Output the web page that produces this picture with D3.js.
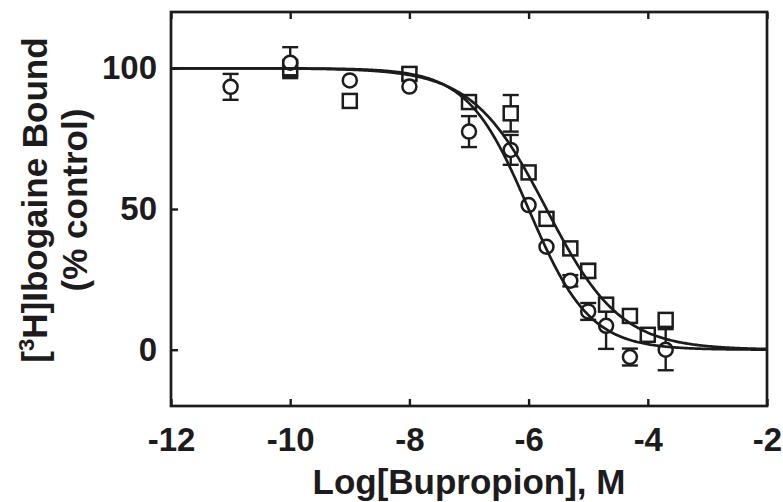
<!DOCTYPE html>
<html><head><meta charset="utf-8">
<script src="https://cdn.jsdelivr.net/npm/d3@7"></script>
<style>body{margin:0;background:#fff}</style>
</head><body><svg id="c" width="783" height="502"></svg>
<script>
// Data
const circleX   = [-11, -10, -9, -8, -7, -6.3, -6, -5.7, -5.3, -5, -4.7, -4.3, -3.7];
const circleY   = [93.4, 102, 95.7, 93.5, 77.5, 71, 51.4, 36.6, 24.5, 13.6, 8.5, -2.6, 0];
const circleErr = [4.6, 5.5, 0, 0, 5.5, 5.3, 0, 0, 2, 3, 8.2, 3, 7.3];
const squareX   = [-10, -9, -8, -7, -6.3, -6, -5.7, -5.3, -5, -4.7, -4.3, -4, -3.7];
const squareY   = [100, 88.4, 98, 88, 84, 63, 46.5, 36, 28, 16, 12, 5.3, 10.6];
const squareErr = [3, 0, 2, 2, 6.5, 0, 0, 0, 2.5, 2, 0, 2, 0];
// Fitted one-site curves: [circles, squares]
const fitLogIC50 = [-6.0, -5.7];
const fitHill    = [0.85, 0.7];
const fitTop     = [100, 100];
const fitBottom  = [0, 0];
const xTicks = [-12, -10, -8, -6, -4, -2];
const yTicks = [0, 50, 100];

const ink = "#1d1b1c";
const svg = d3.select("#c");
const L = 171, R = 767, T = 12, B = 406;
const x = d3.scaleLinear().domain([-12, -2]).range([L, R]);
const y = d3.scaleLinear().domain([-20, 120]).range([B, T]);
const font = "'Liberation Sans', Arial, Helvetica, sans-serif";

// axes
const gx = svg.append("g").attr("transform", `translate(0,${B})`)
  .call(d3.axisBottom(x).tickValues(xTicks).tickSizeInner(-7).tickSizeOuter(0).tickPadding(22).tickFormat(d3.format("d")));
const gxt = svg.append("g").attr("transform", `translate(0,${T})`)
  .call(d3.axisTop(x).tickValues(xTicks).tickSizeInner(-7).tickSizeOuter(0).tickFormat(""));
const gy = svg.append("g").attr("transform", `translate(${L},0)`)
  .call(d3.axisLeft(y).tickValues(yTicks).tickSizeInner(-7).tickSizeOuter(0).tickPadding(14).tickFormat(d3.format("d")));
[gx, gxt, gy].forEach(g => {
  g.select(".domain").remove();
  g.selectAll(".tick line").attr("stroke", ink).attr("stroke-width", 2.4);
  g.selectAll(".tick text").attr("fill", ink).style("font-family", font)
    .style("font-weight", "bold").style("font-size", "33px");
});
gx.selectAll(".tick text").text(d => d < 0 ? "-" + Math.abs(d) : d);

// frame
svg.append("rect").attr("x", L).attr("y", T).attr("width", R - L).attr("height", B - T)
  .attr("fill", "none").attr("stroke", ink).attr("stroke-width", 2.7);

// error bars
function errBars(xs, ys, es) {
  const g = svg.append("g").attr("stroke", ink).attr("stroke-width", 2.4);
  xs.forEach((xv, i) => {
    if (!es[i]) return;
    const cx = x(xv), y1 = y(ys[i] + es[i]), y2 = y(ys[i] - es[i]);
    g.append("line").attr("x1", cx).attr("x2", cx).attr("y1", y1).attr("y2", y2);
    g.append("line").attr("x1", cx - 8).attr("x2", cx + 8).attr("y1", y1).attr("y2", y1);
    g.append("line").attr("x1", cx - 8).attr("x2", cx + 8).attr("y1", y2).attr("y2", y2);
  });
}
errBars(circleX, circleY, circleErr);
errBars(squareX, squareY, squareErr);

// markers
svg.append("g").selectAll("rect").data(squareX).join("rect")
  .attr("x", (d) => x(d) - 7).attr("y", (d, i) => y(squareY[i]) - 7)
  .attr("width", 14).attr("height", 14)
  .attr("fill", "#fff").attr("stroke", ink).attr("stroke-width", 2.5);
svg.append("g").selectAll("circle").data(circleX).join("circle")
  .attr("cx", d => x(d)).attr("cy", (d, i) => y(circleY[i])).attr("r", 7)
  .attr("fill", "#fff").attr("stroke", ink).attr("stroke-width", 2.5);

// fitted curves
const grid = d3.range(-12, -1.999, 0.02);
fitLogIC50.forEach((c, k) => {
  const f = v => fitBottom[k] + (fitTop[k] - fitBottom[k]) / (1 + Math.pow(10, (v - c) * fitHill[k]));
  svg.append("path").datum(grid)
    .attr("d", d3.line().x(v => x(v)).y(v => y(f(v))))
    .attr("fill", "none").attr("stroke", ink).attr("stroke-width", 2.7);
});

// titles
svg.append("text").attr("x", (L + R) / 2).attr("y", 494)
  .attr("text-anchor", "middle").attr("fill", ink)
  .style("font-family", font).style("font-weight", "bold").style("font-size", "35px")
  .text("Log[Bupropion], M");

const yt = svg.append("text").attr("transform", "translate(47,200) rotate(-90)")
  .attr("text-anchor", "middle").attr("fill", ink)
  .style("font-family", font).style("font-weight", "bold").style("font-size", "35px");
yt.append("tspan").text("[");
yt.append("tspan").attr("dy", -13).style("font-size", "22px").text("3");
yt.append("tspan").attr("dy", 13).text("H]Ibogaine Bound");
svg.append("text").attr("transform", "translate(87,200) rotate(-90)")
  .attr("text-anchor", "middle").attr("fill", ink)
  .style("font-family", font).style("font-weight", "bold").style("font-size", "35px")
  .text("(% control)");
</script></body></html>
